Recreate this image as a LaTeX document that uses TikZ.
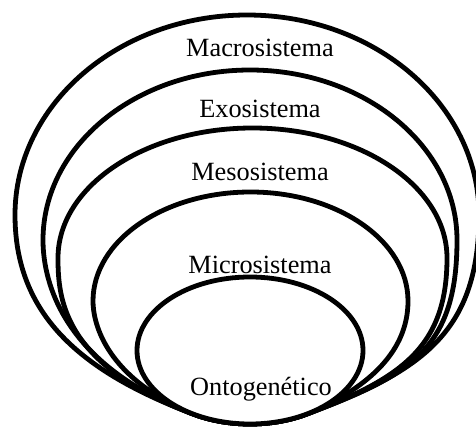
\documentclass[tikz,border=0pt]{standalone}
\usepackage{fontspec}
\setmainfont{Liberation Serif}
\begin{document}
\begin{tikzpicture}[x=1pt,y=1pt,
  ring/.style={draw=black,line width=4.8pt,line join=round},
  lbl/.style={anchor=base,inner sep=0pt,font=\fontsize{26.3}{30}\selectfont}]
\useasboundingbox (0,0) rectangle (476,426);
% Macrosistema
\draw[ring] (193.5,11.85) .. controls (81.2,54.1) and (15,111) .. (15,211)
  arc[start angle=180,end angle=0,x radius=232,y radius=200]
  .. controls (479,91) and (418.8,54.1) .. (306.5,11.85)
  arc[start angle=-60,end angle=-120,x radius=113,y radius=73.5] -- cycle;
% Exosistema
\draw[ring] (193.5,11.85) .. controls (53.1,64.65) and (43,156) .. (43,186)
  arc[start angle=180,end angle=0,x radius=207,y radius=170]
  .. controls (457,76) and (409.5,50.6) .. (306.5,11.85)
  arc[start angle=-60,end angle=-120,x radius=113,y radius=73.5] -- cycle;
% Mesosistema
\draw[ring] (193.5,11.85) .. controls (62.5,61.1) and (58,128) .. (58,168)
  arc[start angle=180,end angle=0,x radius=194.5,y radius=130]
  .. controls (447,78) and (400.1,47.05) .. (306.5,11.85)
  arc[start angle=-60,end angle=-120,x radius=113,y radius=73.5] -- cycle;
% Microsistema
\draw[ring] (185.2,15.3) .. controls (103.3,52.65) and (93,105) .. (93,125)
  arc[start angle=180,end angle=0,x radius=157.5,y radius=109]
  .. controls (408,75) and (369.4,40.2) .. (314.8,15.3)
  arc[start angle=-55,end angle=-125,x radius=113,y radius=73.5] -- cycle;
% Ontogenetico
\draw[ring,fill=white] (250,75.5) ellipse [x radius=113, y radius=73.5];
\node[lbl] (macro) at (260,369) {Macrosistema};
\node[lbl] (exo) at (260,308) {Exosistema};
\node[lbl] (meso) at (260,245) {Mesosistema};
\node[lbl] (micro) at (260,153) {Microsistema};
\node[lbl] (onto) at (261,31) {Ontogenético};
\end{tikzpicture}
\end{document}
